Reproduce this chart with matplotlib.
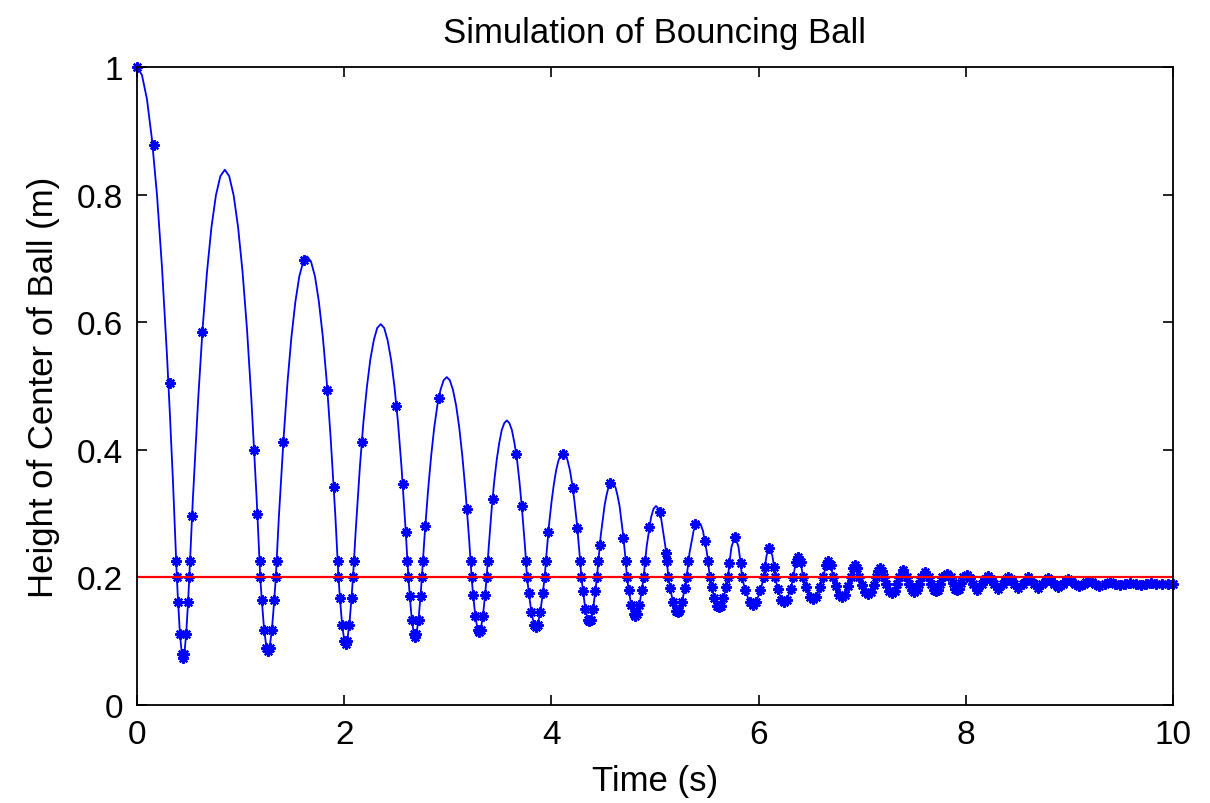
import matplotlib
matplotlib.use("Agg")
from matplotlib import pyplot as plt
import numpy as np

# ball height (m) vs time (s), bounce by bounce
time_s = [
    # drop
    0.0, 0.048, 0.096, 0.144, 0.193, 0.241, 0.289, 0.318, 0.347, 0.385,
    0.397, 0.415, 0.433, 0.445, 0.457, 0.475, 0.493,
    # bounce 1
    0.505, 0.539, 0.591, 0.633, 0.676, 0.719, 0.762, 0.805, 0.848, 0.890,
    0.933, 0.976, 1.019, 1.062, 1.104, 1.156, 1.19,
    1.205, 1.2275, 1.25, 1.265, 1.28, 1.3025, 1.325,
    # bounce 2
    1.34, 1.370, 1.416, 1.4535, 1.491, 1.529, 1.567, 1.605, 1.643, 1.680,
    1.718, 1.756, 1.794, 1.8315, 1.869, 1.915, 1.945,
    1.959, 1.98, 2.001, 2.015, 2.029, 2.05, 2.071,
    # bounce 3
    2.085, 2.112, 2.152, 2.185, 2.219, 2.252, 2.286, 2.319, 2.353, 2.386,
    2.419, 2.453, 2.486, 2.520, 2.553, 2.593, 2.62,
    2.633, 2.6525, 2.672, 2.685, 2.698, 2.7175, 2.737,
    # bounce 4
    2.75, 2.774, 2.81, 2.84, 2.87, 2.90, 2.93, 2.96, 2.99, 3.02, 3.05, 3.08,
    3.11, 3.14, 3.17, 3.206, 3.23,
    3.2445, 3.266, 3.288, 3.3025, 3.317, 3.339, 3.3605,
    # bounce 5
    3.375, 3.395, 3.424, 3.448, 3.473, 3.497, 3.521, 3.546, 3.57, 3.594,
    3.619, 3.643, 3.668, 3.692, 3.716, 3.746, 3.765,
    3.782, 3.8075, 3.833, 3.85, 3.867, 3.8925, 3.918,
    # bounce 6
    3.935, 3.953, 3.979, 4.002, 4.024, 4.046, 4.068, 4.090, 4.113, 4.135,
    4.157, 4.179, 4.201, 4.223, 4.246, 4.272, 4.29,
    4.305, 4.3275, 4.35, 4.365, 4.38, 4.4025, 4.425,
    # bounce 7
    4.44, 4.455, 4.476, 4.513, 4.531, 4.549, 4.567, 4.585, 4.603, 4.621,
    4.639, 4.658, 4.694, 4.716, 4.73,
    4.746, 4.77, 4.794, 4.81, 4.826, 4.85, 4.874,
    # bounce 8
    4.89, 4.92, 4.962, 4.986, 5.01, 5.034, 5.058, 5.10, 5.13,
    5.1475, 5.174, 5.20, 5.2175, 5.235, 5.261, 5.2875,
    # bounce 9
    5.305, 5.333, 5.373, 5.395, 5.418, 5.440, 5.463, 5.502, 5.53,
    5.5475, 5.574, 5.60, 5.6175, 5.635, 5.661, 5.6875,
    # small bounces
    5.705, 5.7185, 5.739, 5.7725, 5.806, 5.8265, 5.84,
    5.8715, 5.9135, 5.945, 5.9765, 6.0185,
    6.05, 6.061, 6.0775, 6.105, 6.1325, 6.149, 6.16,
    6.186, 6.221, 6.2475, 6.274, 6.309,
    6.335, 6.359, 6.3825, 6.406, 6.43,
    6.459, 6.498, 6.5275, 6.557, 6.596,
    6.625, 6.649, 6.6725, 6.696, 6.72,
    6.7455, 6.7795, 6.805, 6.8305, 6.8645,
    6.89, 6.91, 6.93, 6.95, 6.97,
    6.995, 7.0225, 7.0525, 7.0825, 7.11,
    7.135, 7.154, 7.172, 7.191, 7.21,
    7.2325, 7.2575, 7.285, 7.3125, 7.3375,
    7.36, 7.3975, 7.435,
    7.4555, 7.48, 7.5025, 7.525, 7.5495,
    7.57, 7.606, 7.645,
    7.665, 7.69, 7.71, 7.73, 7.755,
    7.775, 7.815, 7.855,
    7.8725, 7.895, 7.9125, 7.93, 7.9525,
    7.97, 8.009,
    # settling
    8.04, 8.07, 8.113, 8.16, 8.19, 8.217, 8.245, 8.27, 8.314, 8.36, 8.385,
    8.41, 8.44, 8.465, 8.507, 8.55, 8.578, 8.603, 8.63, 8.66, 8.70, 8.74,
    8.77, 8.797, 8.825, 8.855, 8.893, 8.935, 8.965, 8.99, 9.02, 9.05, 9.09,
    9.14, 9.165, 9.19, 9.22, 9.25, 9.29, 9.34, 9.39, 9.44, 9.49, 9.54, 9.59,
    9.64, 9.69, 9.74, 9.79, 9.84, 9.89, 9.95, 10.0,
]
height_m = [
    1.0, 0.9875, 0.95, 0.8875, 0.80, 0.6875, 0.55, 0.455, 0.352, 0.2,
    0.161, 0.111, 0.080, 0.074, 0.080, 0.111, 0.161,
    0.2, 0.321, 0.480, 0.589, 0.679, 0.749, 0.799, 0.829, 0.839, 0.829,
    0.799, 0.749, 0.679, 0.589, 0.480, 0.321, 0.2,
    0.164, 0.118, 0.090, 0.084, 0.090, 0.118, 0.164,
    0.2, 0.296, 0.420, 0.507, 0.577, 0.632, 0.672, 0.695, 0.703, 0.695,
    0.672, 0.632, 0.577, 0.507, 0.420, 0.296, 0.2,
    0.168, 0.126, 0.101, 0.096, 0.101, 0.126, 0.168,
    0.2, 0.275, 0.374, 0.442, 0.498, 0.541, 0.572, 0.591, 0.597, 0.591,
    0.572, 0.541, 0.498, 0.442, 0.374, 0.275, 0.2,
    0.171, 0.134, 0.112, 0.107, 0.112, 0.134, 0.171,
    0.2, 0.260, 0.337, 0.391, 0.436, 0.470, 0.494, 0.509, 0.514, 0.509,
    0.494, 0.470, 0.436, 0.391, 0.337, 0.260, 0.2,
    0.173, 0.139, 0.118, 0.114, 0.118, 0.139, 0.173,
    0.2, 0.247, 0.308, 0.350, 0.385, 0.411, 0.431, 0.442, 0.446, 0.442,
    0.431, 0.411, 0.385, 0.350, 0.308, 0.247, 0.2,
    0.176, 0.145, 0.126, 0.122, 0.126, 0.145, 0.176,
    0.2, 0.237, 0.285, 0.319, 0.346, 0.368, 0.383, 0.392, 0.395, 0.392,
    0.383, 0.368, 0.346, 0.319, 0.285, 0.237, 0.2,
    0.179, 0.151, 0.134, 0.131, 0.134, 0.151, 0.179,
    0.2, 0.228, 0.265, 0.312, 0.328, 0.340, 0.347, 0.349, 0.347, 0.340,
    0.328, 0.312, 0.265, 0.228, 0.2,
    0.181, 0.157, 0.142, 0.139, 0.142, 0.157, 0.181,
    0.2, 0.249, 0.294, 0.3075, 0.312, 0.3075, 0.294, 0.249, 0.2,
    0.183, 0.161, 0.148, 0.145, 0.148, 0.161, 0.183,
    0.2, 0.238, 0.273, 0.2835, 0.287, 0.2835, 0.273, 0.238, 0.2,
    0.185, 0.167, 0.155, 0.153, 0.155, 0.167, 0.185,
    0.2, 0.223, 0.248, 0.264, 0.248, 0.223, 0.2,
    0.180, 0.161, 0.156, 0.161, 0.180,
    0.2, 0.217, 0.2345, 0.246, 0.2345, 0.217, 0.2,
    0.182, 0.165, 0.161, 0.165, 0.182,
    0.2, 0.224, 0.232, 0.224, 0.2,
    0.185, 0.170, 0.166, 0.170, 0.185,
    0.2, 0.2195, 0.226, 0.2195, 0.2,
    0.186, 0.173, 0.170, 0.173, 0.186,
    0.2, 0.214, 0.219, 0.214, 0.2,
    0.188, 0.177, 0.174, 0.177, 0.188,
    0.2, 0.2105, 0.214, 0.2105, 0.2,
    0.189, 0.179, 0.176, 0.179, 0.189,
    0.2, 0.211, 0.2,
    0.190, 0.180, 0.177, 0.180, 0.190,
    0.2, 0.208, 0.2,
    0.190, 0.181, 0.179, 0.181, 0.190,
    0.2, 0.205, 0.2,
    0.191, 0.182, 0.180, 0.182, 0.191,
    0.2, 0.203,
    0.199, 0.189, 0.181, 0.189, 0.198, 0.202, 0.198, 0.19, 0.182, 0.19, 0.197,
    0.201, 0.197, 0.19, 0.183, 0.19, 0.196, 0.200, 0.196, 0.19, 0.184, 0.19,
    0.195, 0.199, 0.195, 0.19, 0.185, 0.19, 0.194, 0.197, 0.194, 0.19, 0.186,
    0.19, 0.193, 0.195, 0.193, 0.19, 0.187, 0.19, 0.193, 0.19, 0.188, 0.19, 0.192,
    0.19, 0.188, 0.19, 0.192, 0.19, 0.189, 0.19, 0.19,
]

# solver steps shown as markers on the flight arcs
arc_mark_time = [
    0.0, 0.162, 0.318, 0.379,
    0.512, 0.532, 0.631, 1.131, 1.162, 1.183,
    1.348, 1.413, 1.609, 1.838, 1.899, 1.937,
    2.094, 2.171, 2.504, 2.565, 2.595, 2.611,
    2.76, 2.783, 2.912, 3.185, 3.22,
    3.385, 3.432, 3.66, 3.714, 3.755,
    3.947, 3.971, 4.115, 4.207, 4.25, 4.279,
    4.453, 4.467, 4.57, 4.696, 4.717,
    4.904, 4.945, 5.046, 5.107, 5.116,
    5.323, 5.386, 5.484, 5.512,
    5.7185, 5.7725, 5.8265,
    6.061, 6.105, 6.149, 6.359, 6.3825, 6.406,
]
arc_mark_height = [
    1.0, 0.877, 0.504, 0.225,
    0.225, 0.296, 0.584, 0.40, 0.299, 0.225,
    0.225, 0.413, 0.697, 0.493, 0.341, 0.225,
    0.225, 0.413, 0.469, 0.346, 0.271, 0.225,
    0.225, 0.281, 0.481, 0.307, 0.225,
    0.225, 0.323, 0.393, 0.312, 0.225,
    0.225, 0.271, 0.393, 0.34, 0.277, 0.225,
    0.225, 0.25, 0.348, 0.262, 0.225,
    0.225, 0.279, 0.302, 0.239, 0.225,
    0.225, 0.284, 0.257, 0.225,
    0.223, 0.264, 0.223,
    0.217, 0.246, 0.217, 0.224, 0.232, 0.224,
]

radius_time = [0, 10]
radius_height = [0.2, 0.2]

t = np.array(time_s)
h = np.array(height_m)
in_contact = (h <= 0.2) | (t >= 6.6)
mark_t = np.concatenate([np.array(arc_mark_time), t[in_contact]])
mark_h = np.concatenate([np.array(arc_mark_height), h[in_contact]])

plt.rcParams['font.family'] = ['Liberation Sans', 'DejaVu Sans']

fig = plt.figure(figsize=(12.1, 8.04), dpi=100)
ax = fig.add_axes([0.1132, 0.1219, 0.8562, 0.7935])

blue = '#0000ff'
ax.plot(t, h, color=blue, lw=1.3)
ax.plot(mark_t, mark_h, ls='none', marker=(8, 2, 0), ms=7.5, mew=1.6,
        color=blue, clip_on=False)
ax.plot(radius_time, radius_height, color='#ff0000', lw=1.6)

ax.set_xlim(0, 10)
ax.set_ylim(0, 1)
ax.set_xticks([0, 2, 4, 6, 8, 10])
ax.set_yticks([0, 0.2, 0.4, 0.6, 0.8, 1])
ax.set_yticklabels(['0', '0.2', '0.4', '0.6', '0.8', '1'])
ax.tick_params(direction='in', length=7, width=1.2, top=True, right=True,
               labelsize=24, pad=10)
for s in ax.spines.values():
    s.set_linewidth(1.3)

ax.set_title('Simulation of Bouncing Ball', fontsize=25, pad=18)
ax.set_xlabel('Time (s)', fontsize=25, labelpad=10)
ax.set_ylabel('Height of Center of Ball (m)', fontsize=25, labelpad=12)

fig.savefig('out.png', dpi=100)
